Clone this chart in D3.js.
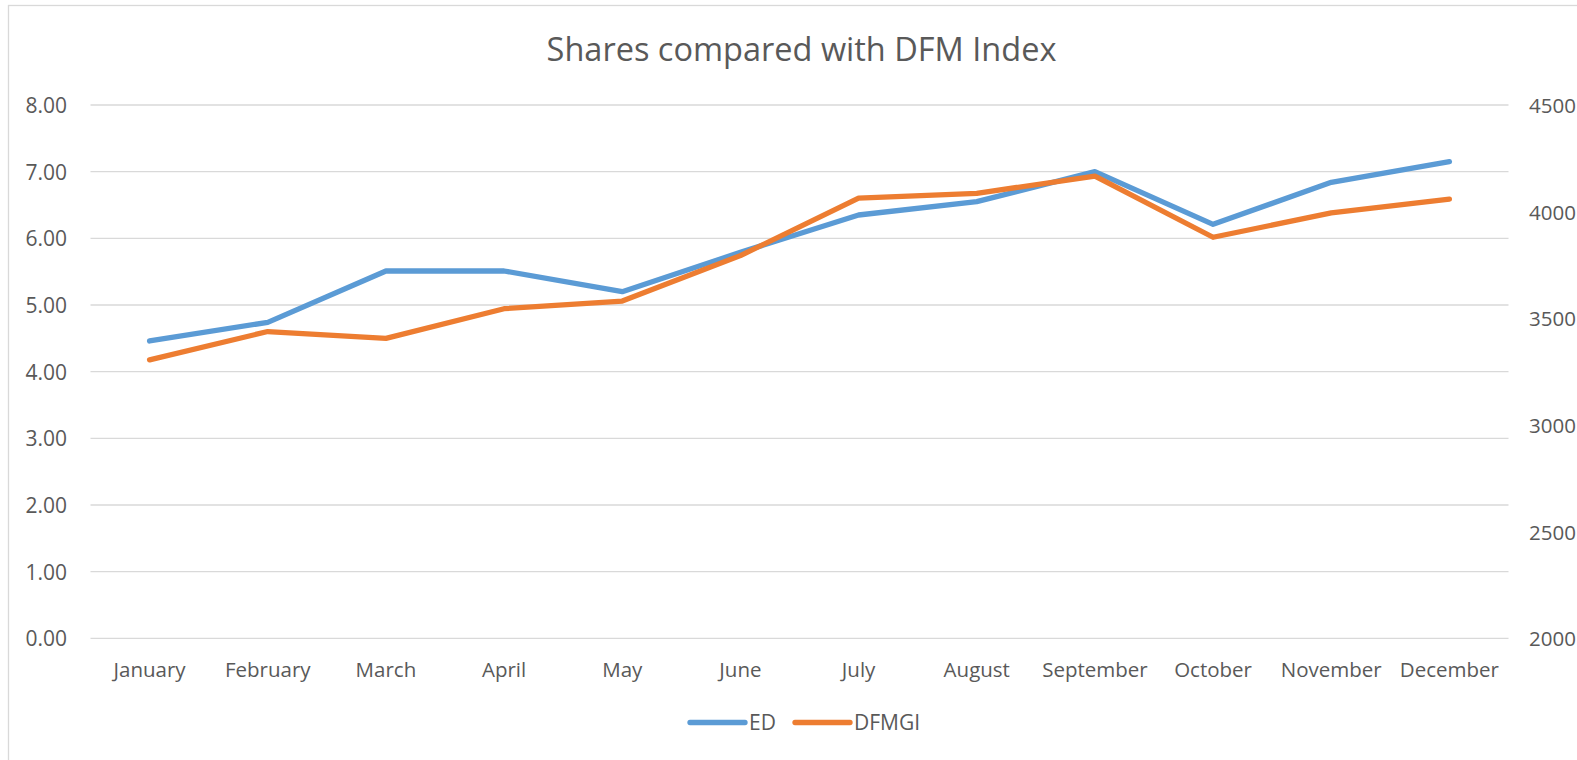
<!DOCTYPE html>
<html>
<head>
<meta charset="utf-8">
<script src="https://cdn.jsdelivr.net/npm/d3@7"></script>
<style>
html,body{margin:0;padding:0;background:#fff;overflow:hidden;}
svg{display:block;}
text{font-family:"Open Sans",sans-serif;fill:#595959;}
</style>
</head>
<body>
<svg id="chart" width="1577" height="760"></svg>
<script>
const titleText = "Shares compared with DFM Index";
const months = ["January","February","March","April","May","June","July","August","September","October","November","December"];
const edValues = [4.46, 4.74, 5.51, 5.51, 5.20, 5.79, 6.35, 6.55, 7.00, 6.21, 6.84, 7.15];
const dfmgiValues = [3305, 3438, 3406, 3545, 3581, 3794, 4063, 4086, 4167, 3880, 3994, 4059];
const leftTicks = [0,1,2,3,4,5,6,7,8];
const rightTicks = [2000,2500,3000,3500,4000,4500];
const seriesNames = ["ED","DFMGI"];
const seriesColors = ["#5b9bd5","#ed7d31"];

const svg = d3.select("#chart");
const plot = {left: 90.5, right: 1508.5, top: 105, bottom: 638.3};

svg.append("rect").attr("x",8.5).attr("y",5.5).attr("width",1600).attr("height",800)
  .attr("fill","none").attr("stroke","#d9d9d9").attr("stroke-width",1.3);

const x = d3.scaleBand().domain(months).range([plot.left, plot.right]);
const yL = d3.scaleLinear().domain([0,8]).range([plot.bottom, plot.top]);
const yR = d3.scaleLinear().domain([2000,4500]).range([plot.bottom, plot.top]);

// gridlines
svg.append("g").selectAll("line").data(leftTicks).join("line")
  .attr("x1",plot.left).attr("x2",plot.right)
  .attr("y1",d=>yL(d)).attr("y2",d=>yL(d))
  .attr("stroke","#d9d9d9").attr("stroke-width",1.3);

// left axis
const axL = svg.append("g").attr("transform",`translate(${plot.left - 23.5},0)`)
  .call(d3.axisLeft(yL).tickValues(leftTicks).tickFormat(d3.format(".2f")).tickSize(0).tickPadding(0));
axL.select(".domain").remove();
axL.selectAll("text").style("font-size","21px").attr("fill","#595959").attr("dy","0.36em");

// right axis
const axR = svg.append("g").attr("transform",`translate(${plot.right + 20.5},0)`)
  .call(d3.axisRight(yR).tickValues(rightTicks).tickFormat(d3.format("d")).tickSize(0).tickPadding(0));
axR.select(".domain").remove();
axR.selectAll("text").style("font-size","20.5px").attr("fill","#595959").attr("dy","0.36em");

// x axis
const axX = svg.append("g").attr("transform",`translate(0,${plot.bottom})`)
  .call(d3.axisBottom(x).tickSize(0).tickPadding(0));
axX.select(".domain").remove();
axX.selectAll("text").style("font-size","20.5px").attr("fill","#595959").attr("dy","0").attr("y",39);

// lines
const cx = d => x(d) + x.bandwidth()/2;
const lineL = d3.line().x((d,i)=>cx(months[i])).y(d=>yL(d));
const lineR = d3.line().x((d,i)=>cx(months[i])).y(d=>yR(d));
svg.append("path").datum(edValues).attr("d",lineL).attr("fill","none")
  .attr("stroke",seriesColors[0]).attr("stroke-width",5.3).attr("stroke-linecap","round").attr("stroke-linejoin","round");
svg.append("path").datum(dfmgiValues).attr("d",lineR).attr("fill","none")
  .attr("stroke",seriesColors[1]).attr("stroke-width",5.3).attr("stroke-linecap","round").attr("stroke-linejoin","round");

// title
svg.append("text").attr("x",(plot.left+plot.right)/2 + 2).attr("y",61)
  .attr("text-anchor","middle").style("font-size","32.5px").text(titleText);

// legend
const legendX = [690, 795];
const lg = svg.append("g");
seriesNames.forEach((n,i)=>{
  lg.append("line").attr("x1",legendX[i]).attr("x2",legendX[i]+55).attr("y1",722.5).attr("y2",722.5)
    .attr("stroke",seriesColors[i]).attr("stroke-width",5.3).attr("stroke-linecap","round");
  lg.append("text").attr("x",legendX[i]+59).attr("y",722.5).attr("dy","0.36em")
    .style("font-size","21px").text(n);
});
</script>
</body>
</html>
